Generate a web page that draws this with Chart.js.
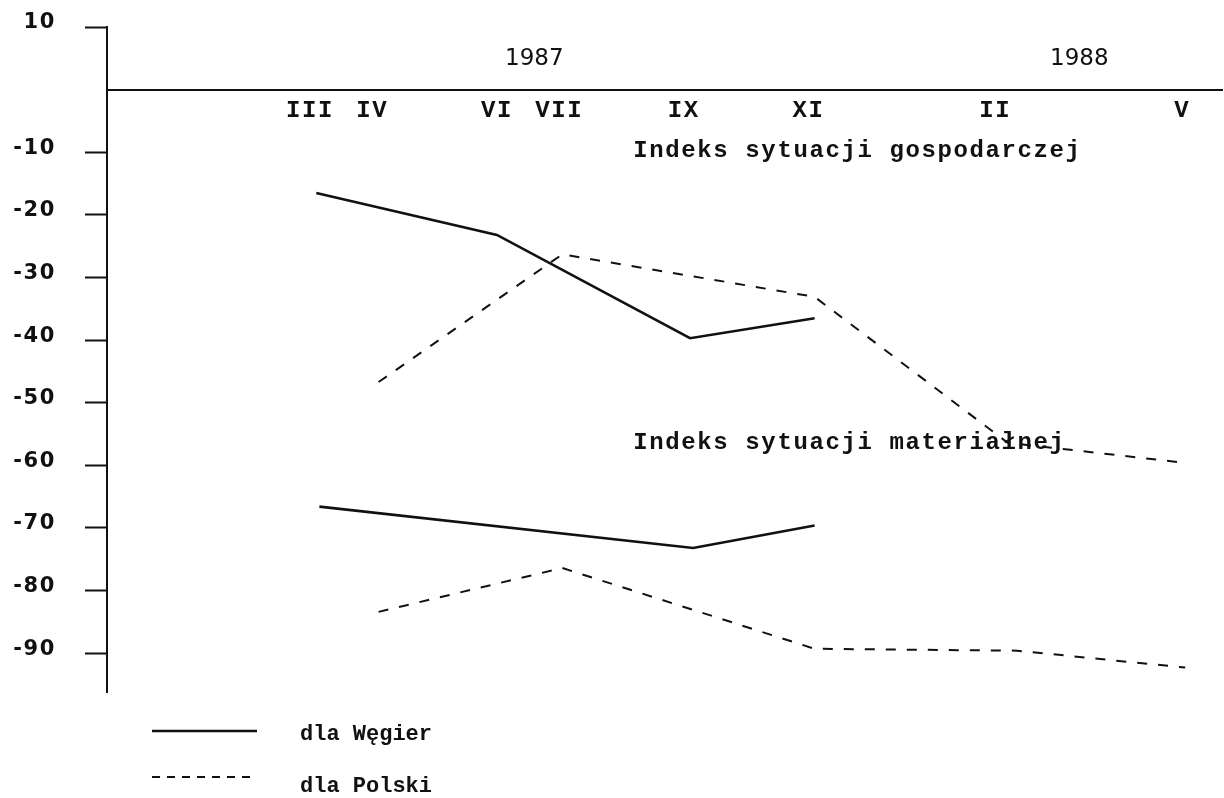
<!DOCTYPE html>
<html>
<head>
<meta charset="utf-8">
<title>Indeks sytuacji gospodarczej i materiałnej</title>
<script src="https://cdn.jsdelivr.net/npm/chart.js"></script>
<style>
    body {
        margin: 0;
        background: #fff;
    }
    #wrap {
        width: 1224px;
        height: 798px;
    }
</style>
</head>
<body>
<div id="wrap"><canvas id="chart" width="1224" height="798"></canvas></div>

<script>
    // miesiace liczone od stycznia 1987 (III 1987 = 3, V 1988 = 17)
    const monthPos = [3, 4, 6, 7, 9, 11, 14, 17];
    const monthLabels = ["III", "IV", "VI", "VII", "IX", "XI", "II", "V"];
    const yearLabels = ["1987", "1988"];
    const yearPos = [6.6, 15.35];
    const yTicks = [10, -10, -20, -30, -40, -50, -60, -70, -80, -90];

    // Indeks sytuacji gospodarczej
    const gospWegryX = [3.1, 6.0, 9.1, 11.1];
    const gospWegryY = [-16.5, -23.2, -39.7, -36.5];
    const gospPolskaX = [4.1, 7.05, 11.1, 14.2, 17.05];
    const gospPolskaY = [-46.7, -26.3, -33.1, -56.4, -59.6];

    // Indeks sytuacji materialnej
    const matWegryX = [3.15, 9.15, 11.1];
    const matWegryY = [-66.6, -73.2, -69.6];
    const matPolskaX = [4.1, 7.05, 11.1, 14.35, 17.05];
    const matPolskaY = [-83.4, -76.4, -89.3, -89.6, -92.3];

    const titles = ["Indeks sytuacji gospodarczej", "Indeks sytuacji materiałnej"];
    const titleX = [8.19, 8.19];
    const titleY = [-10.8, -57.4];
    const legendLabels = ["dla Węgier", "dla Polski"];

    const ink = "#111";

    function points(xs, ys) {
        return xs.map((x, i) => ({ x: x, y: ys[i] }));
    }

    function solid(xs, ys) {
        return { data: points(xs, ys), borderColor: ink, borderWidth: 2.6, pointRadius: 0, tension: 0 };
    }

    function dashed(xs, ys) {
        return { data: points(xs, ys), borderColor: ink, borderWidth: 2, borderDash: [10, 11], pointRadius: 0, tension: 0 };
    }

    // napisy: lata, tytuly, legenda
    const annotations = {
        id: "annotations",
        beforeDraw(chart) {
            chart.ctx.letterSpacing = "1.6px";
        },
        afterDraw(chart) {
            const ctx = chart.ctx;
            const x = chart.scales.x;
            const y = chart.scales.y;
            ctx.save();
            ctx.fillStyle = ink;
            ctx.strokeStyle = ink;

            ctx.letterSpacing = "0px";
            ctx.font = '23px "DejaVu Sans"';
            ctx.textAlign = "center";
            ctx.textBaseline = "alphabetic";
            yearLabels.forEach((t, i) => {
                ctx.fillText(t, x.getPixelForValue(yearPos[i]), y.getPixelForValue(3.9));
            });

            ctx.letterSpacing = "1.6px";
            ctx.font = 'bold 24px "Liberation Mono"';
            ctx.textAlign = "left";
            titles.forEach((t, i) => {
                ctx.fillText(t, x.getPixelForValue(titleX[i]), y.getPixelForValue(titleY[i]));
            });

            // legenda
            ctx.letterSpacing = "0px";
            ctx.font = 'bold 22px "Liberation Mono"';
            ctx.lineWidth = 2.6;
            ctx.beginPath();
            ctx.moveTo(152, 731);
            ctx.lineTo(257, 731);
            ctx.stroke();
            ctx.fillText(legendLabels[0], 300, 740);

            ctx.lineWidth = 2;
            ctx.setLineDash([8, 7]);
            ctx.beginPath();
            ctx.moveTo(152, 777);
            ctx.lineTo(257, 777);
            ctx.stroke();
            ctx.fillText(legendLabels[1], 300, 792);
            ctx.restore();
        }
    };

    new Chart(document.getElementById("chart"), {
        type: "line",
        data: {
            datasets: [
                solid(gospWegryX, gospWegryY),
                dashed(gospPolskaX, gospPolskaY),
                solid(matWegryX, matWegryY),
                dashed(matPolskaX, matPolskaY)
            ]
        },
        options: {
            responsive: false,
            animation: false,
            layout: { padding: { top: 27, right: 2, bottom: 106, left: 0 } },
            plugins: {
                legend: { display: false },
                tooltip: { enabled: false }
            },
            scales: {
                x: {
                    type: "linear",
                    min: -0.26,
                    max: 17.64,
                    position: { y: 0 },
                    afterBuildTicks: (scale) => {
                        scale.ticks = monthPos.map(v => ({ value: v }));
                    },
                    ticks: {
                        autoSkip: false,
                        maxRotation: 0,
                        padding: 7,
                        color: ink,
                        font: { family: "Liberation Mono", size: 24, weight: "bold" },
                        callback: (v, i) => monthLabels[i]
                    },
                    grid: { display: false, drawTicks: false },
                    border: { display: true, color: ink, width: 2 }
                },
                y: {
                    min: -96.2,
                    max: 10,
                    afterBuildTicks: (scale) => {
                        scale.ticks = yTicks.map(v => ({ value: v }));
                    },
                    afterFit: (scale) => {
                        scale.width = 107;
                        scale.paddingTop = 0;
                        scale.paddingBottom = 0;
                    },
                    ticks: {
                        padding: 29,
                        labelOffset: -4,
                        color: ink,
                        font: { family: "DejaVu Sans", size: 21, weight: "bold" }
                    },
                    grid: {
                        drawOnChartArea: false,
                        tickLength: 22,
                        tickWidth: 2,
                        tickColor: ink
                    },
                    border: { display: true, color: ink, width: 2 }
                }
            }
        },
        plugins: [annotations]
    });
</script>
</body>
</html>
